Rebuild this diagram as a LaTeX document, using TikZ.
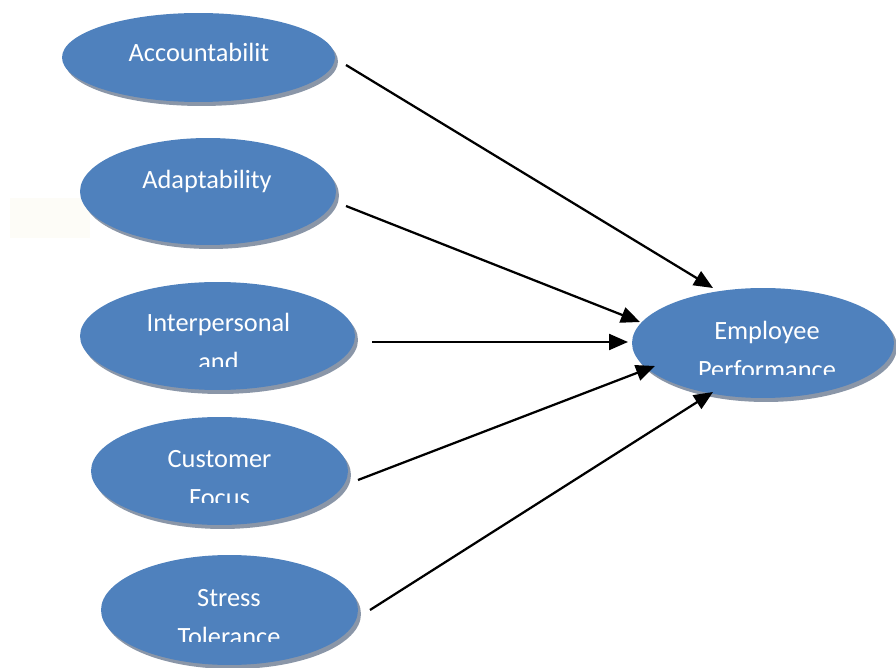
\documentclass[tikz,border=0pt]{standalone}
\usepackage{fontspec}
\setmainfont{Carlito}
\usetikzlibrary{shapes.geometric,shadows,arrows.meta}
\definecolor{bubbleblue}{RGB}{79,129,189}
\definecolor{bubbleshade}{RGB}{138,150,168}
\definecolor{paperbeige}{RGB}{253,252,247}
\tikzset{
  bubble/.style={ellipse, fill=bubbleblue, inner sep=0pt,
    drop shadow={fill=bubbleshade, opacity=1, shadow xshift=0.06cm, shadow yshift=-0.08cm}},
  bubbletext/.style={text=white, font=\fontsize{15}{20}\selectfont, anchor=base, inner sep=0pt},
  link/.style={line width=0.045cm, -{Triangle[length=0.38cm, width=0.32cm]}}
}
\begin{document}
\begin{tikzpicture}[x=0.02cm, y=-0.02cm]
  \useasboundingbox (0,0) rectangle (896,668);

  % faint patch behind Adaptability
  \fill[paperbeige] (10,198) rectangle (90,238);

  % Drawing ellipse Accountability
  \node[bubble, minimum width=5.46cm, minimum height=1.78cm] (acc) at (198.5,57.5) {};
  \node[bubbletext] (acc-t) at (199,62) {Accountabilit};

  % Drawing ellipse Adaptability
  \node[bubble, minimum width=5.12cm, minimum height=2.14cm] (ada) at (208,191.5) {};
  \node[bubbletext] (ada-t) at (207,189) {Adaptability};

  % Drawing ellipse Interpersonal, text cut at the bottom
  \node[bubble, minimum width=5.50cm, minimum height=2.16cm] (int) at (217.5,336) {};
  \begin{scope}
    \clip (80,290) rectangle (355,367);
    \node[bubbletext] (int-t1) at (218.5,331.7) {Interpersonal};
    \node[bubbletext] (int-t2) at (218.5,371) {and};
  \end{scope}

  % Drawing ellipse Customer Focus, text cut at the bottom
  \node[bubble, minimum width=5.14cm, minimum height=2.16cm] (cus) at (219.5,471) {};
  \begin{scope}
    \clip (91,425) rectangle (348,503);
    \node[bubbletext] (cus-t1) at (219.5,468) {Customer};
    \node[bubbletext] (cus-t2) at (219.5,507) {Focus};
  \end{scope}

  % Drawing ellipse Stress Tolerance, text cut at the bottom
  \node[bubble, minimum width=5.14cm, minimum height=2.20cm] (str) at (229.5,610) {};
  \begin{scope}
    \clip (101,565) rectangle (358,641);
    \node[bubbletext] (str-t1) at (229,606) {Stress};
    \node[bubbletext] (str-t2) at (229,645) {Tolerance};
  \end{scope}

  % Drawing ellipse Employee Performance, text cut at the bottom
  \node[bubble, minimum width=5.24cm, minimum height=2.20cm] (emp) at (763,343) {};
  \begin{scope}
    \clip (632,300) rectangle (894,375);
    \node[bubbletext] (emp-t1) at (767,340) {Employee};
    \node[bubbletext] (emp-t2) at (767,379) {Performance};
  \end{scope}

  % Arrow end points
  \coordinate (acc-out) at (346,65);
  \coordinate (ada-out) at (346,206);
  \coordinate (int-out) at (372,342);
  \coordinate (cus-out) at (358,480);
  \coordinate (str-out) at (370,610);
  \coordinate (emp-in1) at (713,288);
  \coordinate (emp-in2) at (640,322);
  \coordinate (emp-in3) at (628,342);
  \coordinate (emp-in4) at (655,366);
  \coordinate (emp-in5) at (713,392);

  % Drawing arrows
  \draw[link] (acc-out) -- (emp-in1);
  \draw[link] (ada-out) -- (emp-in2);
  \draw[link] (int-out) -- (emp-in3);
  \draw[link] (cus-out) -- (emp-in4);
  \draw[link] (str-out) -- (emp-in5);
\end{tikzpicture}
\end{document}
